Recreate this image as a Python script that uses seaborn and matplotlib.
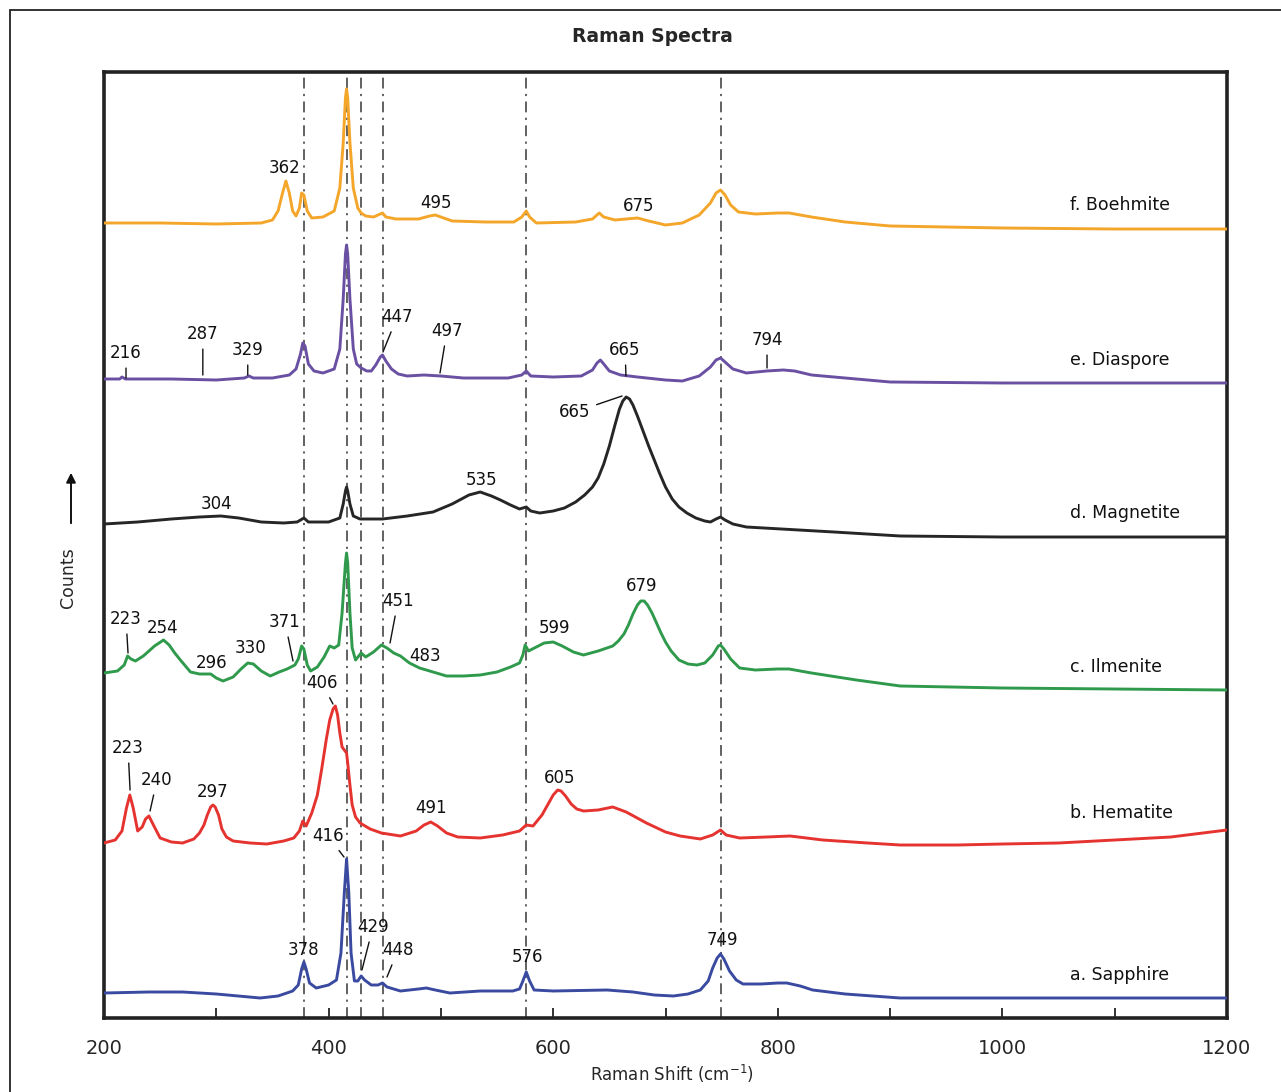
import numpy as np
import pandas as pd
import matplotlib
matplotlib.use("Agg")
import matplotlib.pyplot as plt
import seaborn as sns
from matplotlib.patches import Rectangle

# ---------------- data ----------------
minerals = ["a. Sapphire", "b. Hematite", "c. Ilmenite", "d. Magnetite", "e. Diaspore", "f. Boehmite"]
colors = ["#3a4aa0", "#e5332f", "#2f9a4c", "#262626", "#6a50a2", "#f4a62a"]
offsets = [25, 175, 345, 494, 639, 795]

a_shift = [200, 240, 270, 300, 339, 355, 368, 373, 376, 378, 380, 383, 389, 400, 407, 411, 414, 416, 418, 420,
           423, 426, 429, 432, 438, 444, 448, 452, 464, 480, 487, 495, 508, 535, 564, 570, 573, 576, 579, 583,
           600, 648, 671, 690, 707, 720, 731, 738, 742, 746, 749, 752, 757, 763, 769, 785, 800, 808, 820, 831,
           860, 909, 1000, 1100, 1200]
a_counts = [0, 1, 1, -1, -5, -3, 2, 8, 24, 31, 24, 10, 5, 8, 13, 40, 100, 134, 100, 40,
            12, 12, 17, 13, 8, 8, 10, 6, 2, 4, 5, 3, 0, 2, 2, 4, 12, 21, 12, 3,
            2, 3, 1, -2, -3, -1, 3, 12, 25, 35, 39, 34, 22, 13, 9, 9, 10, 10, 7, 3,
            -1, -5, -5, -5, -5]

b_shift = [200, 210, 216, 220, 223, 226, 230, 234, 237, 240, 244, 250, 260, 270, 280, 285, 289, 292, 295, 297,
           299, 302, 305, 309, 315, 330, 345, 360, 369, 374, 377, 380, 385, 390, 394, 398, 401, 404, 406, 408,
           410, 412, 414, 416, 417, 419, 421, 424, 428, 437, 447, 464, 478, 485, 491, 497, 505, 515, 535, 555,
           570, 576, 582, 590, 595, 600, 604, 607, 611, 616, 621, 627, 640, 653, 665, 683, 700, 713, 731, 742,
           749, 754, 766, 790, 811, 840, 880, 909, 960, 1000, 1050, 1100, 1150, 1200]
b_counts = [0, 3, 12, 35, 48, 35, 12, 16, 24, 27, 18, 5, 1, 0, 4, 10, 18, 28, 36, 38,
            36, 28, 14, 6, 2, 0, -1, 2, 5, 12, 22, 17, 30, 48, 75, 104, 123, 134, 137, 128,
            110, 96, 93, 90, 80, 58, 38, 26, 20, 14, 10, 7, 12, 18, 21, 17, 10, 6, 5, 8,
            12, 18, 17, 28, 38, 48, 53, 52, 47, 39, 34, 32, 33, 36, 31, 20, 11, 7, 4, 8,
            13, 8, 5, 6, 7, 3, 0, -2, -2, -1, 0, 3, 6, 13]

c_shift = [200, 212, 218, 221, 224, 228, 235, 245, 253, 258, 263, 268, 277, 285, 290, 295, 300, 306, 315, 322,
           328, 333, 340, 348, 356, 363, 370, 373, 376, 378, 381, 384, 390, 396, 401, 405, 409, 412, 415, 416,
           417, 419, 421, 424, 429, 433, 440, 447, 452, 458, 464, 472, 481, 490, 505, 520, 535, 550, 562, 570,
           573, 575, 578, 585, 592, 600, 608, 618, 627, 640, 653, 658, 663, 667, 671, 675, 678, 681, 684, 688,
           692, 696, 700, 705, 712, 720, 728, 735, 742, 747, 749, 752, 758, 766, 780, 800, 810, 830, 870, 909,
           1000, 1100, 1200]
c_counts = [0, 2, 8, 17, 14, 12, 17, 27, 33, 28, 20, 13, 1, -1, -1, -1, -5, -8, -4, 4,
            10, 9, 2, -3, 1, 4, 8, 14, 27, 24, 8, 2, 6, 16, 27, 25, 28, 60, 110, 120,
            110, 60, 25, 13, 20, 16, 21, 28, 25, 20, 17, 10, 5, 2, -3, -3, -2, 1, 6, 10,
            18, 28, 22, 26, 30, 31, 27, 21, 18, 22, 27, 32, 39, 48, 59, 68, 72, 72, 68, 60,
            50, 40, 31, 22, 13, 9, 8, 10, 18, 27, 28, 24, 14, 5, 3, 4, 4, 0, -7, -13,
            -15, -16, -17]

d_shift = [200, 230, 260, 285, 304, 320, 340, 360, 372, 378, 382, 400, 410, 413, 415, 416, 417, 419, 422, 428,
           448, 470, 493, 510, 525, 535, 545, 553, 562, 570, 576, 580, 588, 600, 610, 620, 628, 635, 640, 645,
           650, 655, 659, 662, 665, 668, 671, 675, 680, 685, 690, 695, 700, 706, 712, 719, 727, 735, 740, 745,
           749, 753, 760, 772, 850, 909, 1000, 1100, 1200]
d_counts = [0, 2, 5, 7, 8, 6, 2, 1, 2, 6, 2, 2, 6, 20, 33, 37, 33, 20, 8, 5,
            5, 8, 12, 20, 29, 32, 28, 24, 19, 15, 17, 13, 11, 13, 16, 22, 29, 37, 46, 60,
            78, 99, 115, 123, 127, 125, 119, 108, 93, 78, 64, 50, 37, 25, 17, 11, 6, 3, 2, 5,
            7, 4, 0, -3, -8, -12, -13, -13, -13]

e_shift = [200, 214, 216, 219, 260, 300, 325, 329, 333, 350, 365, 371, 375, 377, 379, 382, 387, 395, 405, 410,
           413, 415, 416, 417, 419, 422, 425, 429, 434, 438, 442, 446, 448, 451, 456, 462, 470, 485, 500, 520,
           560, 572, 576, 580, 600, 625, 635, 639, 642, 645, 650, 660, 675, 700, 715, 730, 740, 745, 749, 753,
           760, 772, 790, 805, 815, 830, 860, 900, 1000, 1100, 1200]
e_counts = [0, 0, 2, 0, 0, -1, 1, 3, 1, 1, 4, 10, 25, 36, 33, 15, 8, 6, 10, 30,
            80, 125, 134, 125, 80, 30, 15, 11, 8, 8, 14, 22, 24, 18, 10, 5, 3, 4, 3, 1,
            1, 4, 8, 3, 2, 3, 9, 16, 19, 15, 8, 4, 2, -1, -2, 3, 12, 19, 21, 17,
            10, 6, 8, 9, 8, 4, 1, -3, -4, -4, -4]

f_shift = [200, 250, 300, 340, 350, 355, 359, 362, 365, 368, 371, 374, 376, 378, 381, 385, 395, 405, 410, 413,
           415, 416, 417, 419, 422, 426, 429, 433, 440, 446, 448, 451, 460, 480, 490, 495, 500, 510, 540, 565,
           572, 576, 579, 585, 620, 635, 641, 645, 655, 665, 675, 685, 700, 715, 730, 740, 745, 749, 753, 758,
           765, 780, 800, 810, 830, 860, 900, 1000, 1100, 1200]
f_counts = [0, 0, -1, 0, 3, 12, 30, 42, 30, 12, 7, 15, 30, 28, 12, 5, 6, 12, 35, 80,
            125, 134, 125, 80, 35, 15, 10, 7, 6, 9, 10, 6, 4, 4, 7, 8, 6, 2, 1, 1,
            6, 12, 6, 0, 1, 4, 10, 6, 3, 4, 5, 2, -2, 0, 8, 20, 30, 33, 28, 18,
            11, 9, 10, 10, 6, 1, -3, -5, -6, -6]

reference_lines = [378, 416, 429, 448, 576, 749]
tick_major = [200, 400, 600, 800, 1000, 1200]
tick_minor = [300, 500, 700, 900, 1100]

# peak labels: (text, text_x, text_y, line_end_x, line_end_y)
peak_labels = [
    ("362", 361, 850, None, None), ("495", 496, 815, None, None), ("675", 676, 812, None, None),
    ("216", 219.6, 665, 219.6, 640), ("287", 288, 684, 288, 643), ("329", 328, 668, 328, 643),
    ("447", 461, 701, 448.4, 666), ("497", 505.4, 687, 499.2, 645), ("665", 664, 668, 664.8, 642),
    ("794", 790.4, 678, 790.4, 650),
    ("304", 300.6, 514, None, None), ("535", 536.6, 538, None, None), ("665", 619.4, 606, 661.3, 622),
    ("223", 219.6, 399, 221.4, 365), ("254", 252.5, 390, None, None), ("296", 296.2, 355, None, None),
    ("330", 330.9, 370, None, None), ("371", 361.2, 396, 368.3, 357), ("451", 461.8, 417, 454.7, 375),
    ("483", 485.8, 362, None, None), ("599", 601.6, 390, None, None), ("679", 679, 432, None, None),
    ("223", 221.4, 270, 223.2, 228), ("240", 247.2, 238, 241, 207), ("297", 297, 226, None, None),
    ("406", 394, 335, 403.9, 314), ("491", 491.2, 210, None, None), ("605", 606, 240, None, None),
    ("416", 399.5, 182, 413.7, 161), ("378", 378, 68, None, None), ("429", 439.5, 91, 429.7, 48),
    ("448", 461.8, 68, 452, 41), ("576", 576.7, 61, None, None), ("749", 750.3, 78, None, None),
]
name_label_y = [43, 205, 351, 505, 658, 813]

# ---------------- build table ----------------
series = [(a_shift, a_counts), (b_shift, b_counts), (c_shift, c_counts),
          (d_shift, d_counts), (e_shift, e_counts), (f_shift, f_counts)]
rows = []
for name, (xs, ys), off in zip(minerals, series, offsets):
    for x, y in zip(xs, ys):
        rows.append((name, x, y + off))
df = pd.DataFrame(rows, columns=["mineral", "shift", "counts"])

# ---------------- plot ----------------
sns.set_theme(style="white")
plt.rcParams['font.family'] = ['DejaVu Sans']

W, H = 1281, 1092
fig = plt.figure(figsize=(W / 100, H / 100), dpi=100)
ax = fig.add_axes([104 / W, 1 - 1018 / H, 1123 / W, 946 / H])

for xv in reference_lines:
    ax.axvline(xv, color="#555555", lw=1.3, ls=(0, (6, 3, 1.2, 3)), zorder=1)

sns.lineplot(data=df, x="shift", y="counts", hue="mineral", hue_order=minerals,
             palette=dict(zip(minerals, colors)), legend=False, linewidth=2.1,
             estimator=None, sort=False, ax=ax, zorder=3)

for name, yy in zip(minerals, name_label_y):
    ax.text(1060, yy, name, fontsize=12.5, ha="left", va="center", color="#111111")

for txt, tx, ty, lx, ly in peak_labels:
    if lx is None:
        ax.text(tx, ty, txt, fontsize=12, ha="center", va="center", color="#111111", zorder=4)
    else:
        ax.annotate(txt, xy=(lx, ly), xytext=(tx, ty), fontsize=12, ha="center", va="center",
                    color="#111111", zorder=4,
                    arrowprops=dict(arrowstyle="-", color="#111111", lw=1.0, shrinkA=2, shrinkB=0))

ax.set_xlim(200, 1200)
ax.set_ylim(0, 946)
ax.set_xticks(tick_major)
ax.set_xticks(tick_minor, minor=True)
ax.set_xticklabels([str(t) for t in tick_major], fontsize=14)
ax.set_yticks([])
ax.tick_params(axis="x", which="both", direction="in", length=7, width=1.3, color="#222222",
               bottom=True, top=False, pad=15)
for sp in ax.spines.values():
    sp.set_linewidth(2.6)
    sp.set_color("#222222")
ax.set_ylabel("")
ax.set_xlabel(r"Raman Shift (cm$^{-1}$)", fontsize=12)
ax.xaxis.set_label_coords((672 - 104) / 1123, -(1063 - 1018) / 946)

fig.text(652 / W, 1 - 37 / H, "Raman Spectra", fontsize=13.5, fontweight="bold", ha="center", va="center")
fig.text(68 / W, 1 - 578 / H, "Counts", fontsize=12.5, rotation=90, ha="center", va="center")
ax.annotate("", xy=(71 / W, 1 - 470 / H), xytext=(71 / W, 1 - 526 / H), xycoords="figure fraction",
            textcoords="figure fraction",
            arrowprops=dict(arrowstyle="-|>", color="#111111", lw=1.4, mutation_scale=14))

frame = Rectangle((10 / W, -0.05), 1.2, 1 - 10 / H + 0.05, transform=fig.transFigure, fill=False,
                  edgecolor="#222222", lw=1.3)
fig.patches.append(frame)

fig.savefig("out.png", dpi=100)
